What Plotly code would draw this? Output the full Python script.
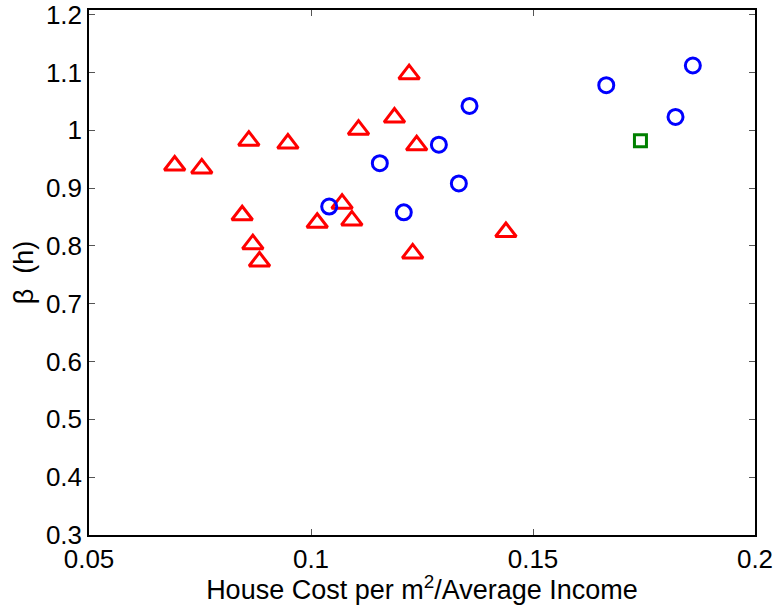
import plotly.graph_objects as go

# Red triangles
tri_x = [0.1221, 0.1188, 0.1107, 0.1238, 0.0860, 0.0948, 0.0693, 0.0754,
         0.0845, 0.1070, 0.1092, 0.1014, 0.0869, 0.0884, 0.1229, 0.1439]
tri_y = [1.097, 1.022, 1.001, 0.974, 0.982, 0.977, 0.939, 0.934,
         0.853, 0.873, 0.844, 0.840, 0.803, 0.773, 0.787, 0.824]
# Blue circles
cir_x = [0.1041, 0.1155, 0.1209, 0.1288, 0.1333, 0.1357, 0.1665, 0.1821, 0.1860]
cir_y = [0.868, 0.943, 0.858, 0.975, 0.908, 1.042, 1.078, 1.023, 1.112]
# Green square
sq_x = [0.1742]
sq_y = [0.982]

x_ticks = [0.05, 0.1, 0.15, 0.2]
x_labels = ["0.05", "0.1", "0.15", "0.2"]
y_ticks = [0.3, 0.4, 0.5, 0.6, 0.7, 0.8, 0.9, 1.0, 1.1, 1.2]
y_labels = ["0.3", "0.4", "0.5", "0.6", "0.7", "0.8", "0.9", "1", "1.1", "1.2"]

fig = go.Figure()
fig.add_trace(go.Scatter(x=tri_x, y=tri_y, mode="markers",
                         marker=dict(symbol="triangle-up-open", size=18,
                                     color="#ff0000", line=dict(width=3, color="#ff0000"))))
fig.add_trace(go.Scatter(x=cir_x, y=cir_y, mode="markers",
                         marker=dict(symbol="circle-open", size=15,
                                     color="#0000ff", line=dict(width=3, color="#0000ff"))))
fig.add_trace(go.Scatter(x=sq_x, y=sq_y, mode="markers",
                         marker=dict(symbol="square-open", size=12,
                                     color="#008000", line=dict(width=3, color="#008000"))))

font = dict(family="Liberation Sans, Arial, sans-serif", size=26, color="black")
tfont = dict(family="Liberation Sans, Arial, sans-serif", size=27, color="black")
fig.update_layout(
    width=775, height=605,
    margin=dict(l=89, r=20, t=10, b=70, autoexpand=False),
    paper_bgcolor="white", plot_bgcolor="white",
    showlegend=False,
    font=font,
)
fig.update_xaxes(range=[0.05, 0.2], tickvals=x_ticks, ticktext=x_labels,
                 automargin=False, ticklabeloverflow="allow",
                 showgrid=False, zeroline=False, showline=True, linecolor="black",
                 linewidth=1.5, mirror="ticks", ticks="inside", ticklen=6,
                 tickcolor="#555555", tickwidth=1, tickfont=font,
                 title=dict(text="House Cost per m<sup>2</sup>/Average Income",
                            font=tfont, standoff=4))
fig.update_yaxes(range=[0.3, 1.208], tickvals=y_ticks, ticktext=y_labels,
                 automargin=False, ticklabeloverflow="allow",
                 showgrid=False, zeroline=False, showline=True, linecolor="black",
                 linewidth=1.5, mirror="ticks", ticks="inside", ticklen=6,
                 tickcolor="#555555", tickwidth=1, tickfont=font,
                 title=dict(text="β  (h)", font=tfont, standoff=4))

fig.write_html("out.html")
